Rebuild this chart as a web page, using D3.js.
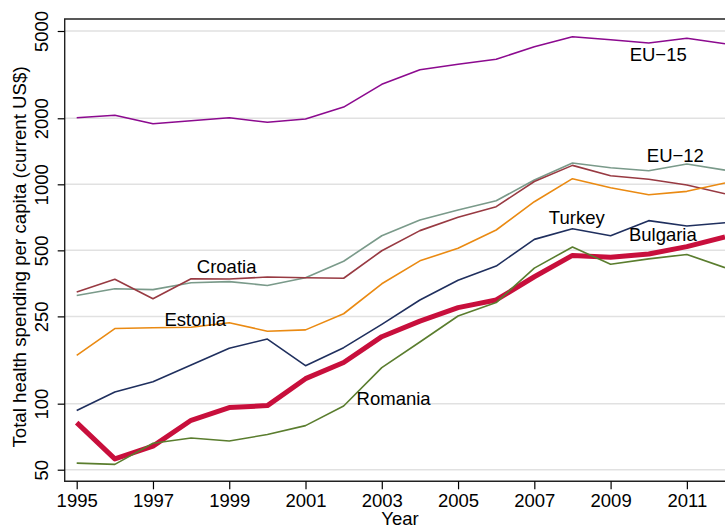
<!DOCTYPE html>
<html>
<head>
<meta charset="utf-8">
<script src="https://cdn.jsdelivr.net/npm/d3@7"></script>
<style>
  body { margin: 0; background: #fff; }
  text { font-family: "Liberation Sans", Arial, sans-serif; fill: #000; }
</style>
</head>
<body>
<svg id="chart" width="725" height="529"></svg>
<script>
// data (current US$ per capita)
let years = [1995, 1996, 1997, 1998, 1999, 2000, 2001, 2002, 2003, 2004, 2005, 2006, 2007, 2008, 2009, 2010, 2011, 2012];
let bulgaria = [82, 56, 64, 84, 96, 98, 130, 154, 202, 238, 274, 297, 379, 474, 465, 481, 520, 575];
let eu15 = [2010, 2064, 1890, 1950, 2010, 1917, 1985, 2250, 2857, 3330, 3525, 3715, 4240, 4710, 4560, 4410, 4630, 4375];
let eu12 = [311, 334, 331, 356, 360, 346, 375, 446, 583, 688, 763, 842, 1046, 1250, 1190, 1154, 1238, 1160];
let croatia = [323, 369, 301, 371, 370, 378, 375, 373, 498, 615, 707, 791, 1030, 1220, 1094, 1054, 993, 906];
let estonia = [166, 220, 222, 223, 234, 214, 217, 257, 352, 448, 511, 619, 833, 1061, 965, 897, 929, 1014];
let turkey = [93, 113, 126, 150, 179, 197, 149, 180, 230, 297, 365, 424, 561, 627, 583, 683, 646, 668];
let romania = [53.6, 52.9, 66, 69.7, 67.6, 72.3, 79.4, 97.6, 146, 191, 251, 289, 415, 518, 432, 457, 479, 417];

let yTicks = [50, 100, 250, 500, 1000, 2000, 5000];
let xTicks = [1995, 1997, 1999, 2001, 2003, 2005, 2007, 2009, 2011];

// label anchors in data units (left edge, baseline)
let labelNames = ["EU\u221215", "EU\u221212", "Croatia", "Estonia", "Turkey", "Bulgaria", "Romania"];
let labelYears = [2009.5, 2009.95, 1998.15, 1997.3, 2007.38, 2009.48, 2002.34];
let labelValues = [3650, 1264, 393, 227, 659, 553, 98.6];

let series = [
    { name: "Bulgaria", values: bulgaria, color: "#c80f3c", width: 5 },
    { name: "EU-15", values: eu15, color: "#8c0a8f", width: 1.6 },
    { name: "EU-12", values: eu12, color: "#7a9a8a", width: 1.6 },
    { name: "Croatia", values: croatia, color: "#983a42", width: 1.6 },
    { name: "Estonia", values: estonia, color: "#ea8a12", width: 1.6 },
    { name: "Turkey", values: turkey, color: "#1f2f5e", width: 1.6 },
    { name: "Romania", values: romania, color: "#5a7d2e", width: 1.6 }
];

let svg = d3.select("#chart");

let x = d3.scaleLinear().domain([1995, 2012]).range([76.7, 725]);
let y = d3.scaleLog().domain([50, 5000]).range([469.7, 31]);

let plotLeft = 64.7, plotTop = 19, plotBottom = 481.3, plotRight = 740;

// gridlines
svg.append("g")
    .selectAll("line")
    .data(yTicks)
    .enter()
    .append("line")
    .attr("x1", plotLeft)
    .attr("x2", plotRight)
    .attr("y1", d => y(d))
    .attr("y2", d => y(d))
    .style("stroke", "#e1e1e1")
    .attr("stroke-width", 1.5);

// lines
let line = d3.line()
    .x((d, i) => x(years[i]))
    .y(d => y(d));

svg.append("g")
    .selectAll("path")
    .data(series)
    .enter()
    .append("path")
    .attr("d", d => line(d.values))
    .attr("fill", "none")
    .attr("stroke", d => d.color)
    .attr("stroke-width", d => d.width)
    .attr("stroke-linejoin", "round");

// plot frame (right edge falls outside the picture)
svg.append("path")
    .attr("d", `M${plotRight},${plotTop}H${plotLeft}V${plotBottom}H${plotRight}`)
    .attr("fill", "none")
    .attr("stroke", "#222")
    .attr("stroke-width", 1.4);

// y axis
let yAxis = svg.append("g").attr("transform", `translate(${plotLeft},0)`)
    .call(d3.axisLeft(y).tickValues(yTicks).tickSize(7).tickFormat(d3.format("d")));
yAxis.select(".domain").remove();
yAxis.selectAll(".tick line").attr("stroke", "#000").attr("stroke-width", 1.2);
yAxis.selectAll(".tick text")
    .attr("x", null).attr("dy", null)
    .attr("transform", "translate(-17,0) rotate(-90)")
    .attr("text-anchor", "middle")
    .style("font-size", "18.5px")
    .style("font-family", "'Liberation Sans', Arial, sans-serif")
    .attr("fill", "#000");

// x axis
let xAxis = svg.append("g").attr("transform", `translate(0,${plotBottom})`)
    .call(d3.axisBottom(x).tickValues(xTicks).tickSize(8).tickFormat(d3.format("d")));
xAxis.select(".domain").remove();
xAxis.selectAll(".tick line").attr("stroke", "#000").attr("stroke-width", 1.2);
xAxis.selectAll(".tick text")
    .attr("y", 26).attr("dy", null)
    .style("font-size", "18.5px")
    .style("font-family", "'Liberation Sans', Arial, sans-serif")
    .attr("fill", "#000");

// axis titles
svg.append("text")
    .attr("x", 400)
    .attr("y", 525)
    .attr("text-anchor", "middle")
    .style("font-size", "18.5px")
    .text("Year");

svg.append("text")
    .attr("transform", "translate(26,257) rotate(-90)")
    .attr("text-anchor", "middle")
    .style("font-size", "18.7px")
    .text("Total health spending per capita (current US$)");

// series labels
svg.append("g")
    .selectAll("text")
    .data(labelNames)
    .enter()
    .append("text")
    .attr("x", (d, i) => x(labelYears[i]))
    .attr("y", (d, i) => y(labelValues[i]))
    .style("font-size", "18.5px")
    .text(d => d);
</script>
</body>
</html>
